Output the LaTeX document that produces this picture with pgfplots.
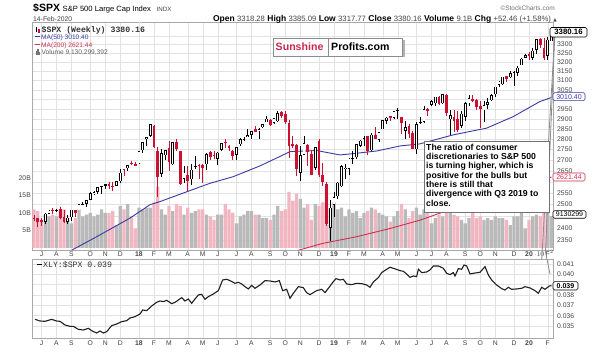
\documentclass[border=0pt]{standalone}
\usepackage{pgfplots}
\pgfplotsset{compat=1.18}
\usepackage{pgfplotstable}
\usepackage{fontspec}
\setmainfont{Liberation Sans}
\newfontfamily\mono{Liberation Mono}
\newfontfamily\dejavu{DejaVu Sans}
\definecolor{cred}{HTML}{CC1133}
\definecolor{vgray}{HTML}{B9B9B9}
\definecolor{vpink}{HTML}{F2B6C2}
\definecolor{mablue}{HTML}{3A3AA6}
\definecolor{mared}{HTML}{D0304E}
\definecolor{gridc}{HTML}{E2E2E2}
\definecolor{framec}{HTML}{A8A8A8}
\definecolor{txt}{HTML}{444444}
\definecolor{sunred}{HTML}{C8284A}
\newcommand{\fs}[1]{\fontsize{#1}{#1}\selectfont}

\pgfplotstableread{
i o h l c v
0 2442 2454 2428 2438 11.0
1 2442 2443 2405 2423 10.5
2 2431 2442 2407 2425 7.5
3 2426 2463 2416 2459 9.5
4 2459 2477 2457 2473 9.0
5 2475 2484 2459 2472 9.5
6 2475 2480 2468 2477 9.0
7 2478 2490 2437 2441 10.5
8 2444 2475 2421 2426 11.0
9 2426 2456 2417 2443 8.5
10 2444 2477 2428 2477 7.0
11 2474 2475 2446 2461 8.5
12 2474 2500 2474 2500 11.0
13 2501 2508 2496 2502 9.0
14 2503 2520 2488 2519 9.5
15 2521 2552 2521 2549 10.0
16 2547 2557 2543 2553 9.0
17 2555 2575 2547 2575 9.5
18 2578 2582 2544 2581 11.0
19 2583 2588 2566 2588 10.0
20 2588 2598 2566 2582 10.0
21 2580 2597 2557 2579 10.5
22 2583 2605 2579 2602 6.5
23 2602 2657 2596 2642 12.0
24 2657 2657 2624 2652 11.0
25 2661 2679 2650 2675 12.5
26 2685 2695 2676 2683 9.0
27 2683 2692 2673 2674 5.5
28 2684 2743 2682 2743 11.5
29 2747 2787 2733 2786 11.0
30 2799 2810 2769 2810 11.5
31 2815 2873 2808 2873 11.5
32 2867 2870 2759 2762 13.0
33 2741 2763 2533 2620 17.5
34 2636 2754 2622 2732 11.0
35 2722 2747 2698 2747 9.5
36 2757 2789 2647 2691 12.0
37 2681 2786 2675 2786 10.5
38 2788 2802 2742 2752 12.5
39 2741 2741 2585 2588 12.0
40 2613 2672 2593 2641 9.5
41 2633 2672 2553 2604 11.5
42 2611 2680 2586 2656 10.0
43 2669 2717 2660 2670 10.5
44 2675 2683 2612 2670 11.0
45 2676 2682 2594 2663 11.0
46 2680 2732 2655 2728 9.5
47 2738 2743 2702 2713 9.0
48 2723 2742 2707 2721 8.0
49 2705 2736 2675 2735 9.5
50 2748 2779 2743 2779 9.5
51 2784 2801 2755 2780 12.5
52 2765 2774 2742 2755 11.0
53 2742 2746 2698 2718 10.0
54 2724 2763 2698 2760 7.0
55 2775 2804 2769 2801 9.0
56 2797 2809 2793 2802 9.5
57 2811 2848 2808 2819 10.5
58 2821 2841 2801 2840 10.5
59 2849 2863 2833 2833 9.5
60 2838 2855 2802 2850 9.5
61 2858 2876 2853 2875 8.5
62 2884 2916 2884 2902 8.5
63 2896 2900 2864 2872 8.0
64 2881 2906 2874 2905 9.5
65 2888 2940 2886 2930 12.0
66 2933 2940 2903 2914 10.5
67 2926 2939 2874 2886 11.0
68 2882 2894 2710 2767 16.0
69 2775 2817 2755 2768 13.5
70 2773 2778 2628 2658 15.5
71 2640 2767 2603 2723 14.0
72 2726 2815 2722 2781 11.5
73 2773 2775 2670 2736 12.5
74 2730 2747 2631 2633 8.0
75 2663 2760 2655 2760 12.5
76 2790 2800 2621 2633 12.0
77 2630 2685 2583 2600 13.0
78 2590 2601 2409 2417 17.5
79 2401 2520 2346 2486 11.0
80 2498 2553 2444 2532 13.0
81 2535 2597 2524 2596 11.0
82 2580 2675 2575 2671 11.5
83 2657 2681 2612 2665 9.0
84 2659 2708 2631 2707 11.0
85 2703 2744 2681 2708 10.0
86 2712 2776 2704 2776 10.5
87 2769 2796 2764 2793 8.5
88 2802 2816 2767 2804 10.0
89 2814 2816 2722 2743 10.5
90 2747 2830 2741 2822 11.5
91 2822 2860 2800 2801 11.0
92 2796 2836 2785 2834 10.0
93 2848 2893 2848 2893 9.5
94 2892 2910 2873 2907 9.0
95 2915 2917 2891 2905 7.5
96 2905 2940 2898 2940 9.0
97 2941 2955 2901 2946 10.5
98 2909 2912 2825 2881 12.5
99 2840 2892 2801 2860 11.0
100 2863 2876 2805 2826 8.5
101 2830 2840 2750 2752 10.5
102 2751 2885 2728 2873 11.5
103 2886 2911 2874 2887 9.5
104 2886 2964 2882 2950 11.0
105 2952 2958 2914 2942 10.0
106 2971 2996 2964 2990 7.0
107 2980 3014 2966 3014 8.5
108 3014 3018 2970 2977 9.5
109 2981 3028 2976 3026 9.0
110 3024 3027 2914 2932 11.0
111 2899 2944 2822 2919 10.5
112 2908 2943 2834 2889 9.5
113 2898 2939 2834 2847 9.0
114 2866 2940 2853 2926 8.0
115 2910 2985 2891 2979 7.0
116 2980 3021 2964 3007 8.5
117 3002 3022 2988 2992 10.0
118 2995 3002 2946 2962 8.5
119 2968 2993 2855 2952 9.0
120 2944 2993 2884 2970 8.0
121 2973 3008 2952 2986 8.5
122 2996 3027 2990 3023 8.0
123 3028 3067 3012 3067 9.0
124 3078 3097 3066 3093 8.5
125 3081 3120 3078 3120 8.5
126 3123 3127 3091 3110 8.0
127 3117 3154 3113 3141 6.5
128 3143 3150 3070 3146 9.0
129 3141 3182 3123 3169 9.0
130 3183 3226 3183 3221 11.0
131 3227 3247 3223 3240 5.5
132 3247 3259 3212 3235 8.0
133 3226 3282 3214 3265 9.0
134 3271 3330 3247 3330 9.5
135 3333 3338 3280 3295 9.0
136 3283 3337 3214 3226 10.5
137 3235 3347 3214 3328 10.0
138 3318 3385 3318 3380 9.13
}\spx

\pgfplotstableread{
i m
9 2300
16.7 2363
25.6 2441
30.9 2498
33.6 2512
40.7 2555
46.9 2593
53.1 2623
60.3 2673
68.3 2740
75.4 2745
81.6 2724
86 2732
91.4 2743
97.6 2767
102.9 2777
111.8 2821
120.7 2854
127.8 2912
134.9 2989
138 3010.40
}\maL

\pgfplotstableread{
i m
70 2306
77 2336
79 2342
86 2363
94.9 2397
102.9 2432
111.8 2482
120 2530
128 2576
134.9 2604
138 2621.44
}\maS

\pgfplotstableread{
i r
0.27 0.035645
1.6 0.035484
2.93 0.035452
4.71 0.035645
6.04 0.035484
6.93 0.035452
8.27 0.035097
9.6 0.034968
10.49 0.034968
11.82 0.034677
13.16 0.034613
14.49 0.034774
15.38 0.034548
16.71 0.034323
17.6 0.034516
18.49 0.034323
19.38 0.034452
20.71 0.035032
22.04 0.035194
23.38 0.035419
24.71 0.035516
25.6 0.035774
26.93 0.035903
28.27 0.036161
28.98 0.036548
30.04 0.036484
31.38 0.036935
32.71 0.037290
33.6 0.037419
34.49 0.037355
35.38 0.037484
36.71 0.037161
37.6 0.037290
38.49 0.037516
39.38 0.037742
40.27 0.037419
41.16 0.037613
42.04 0.037194
42.93 0.037613
43.82 0.038000
44.71 0.038065
45.6 0.037581
46.49 0.037839
47.82 0.038097
49.16 0.038419
50.31 0.039452
51.38 0.039516
52.27 0.039387
53.6 0.039129
54.49 0.039226
55.38 0.039065
56.27 0.038806
57.16 0.038581
58.04 0.038935
58.93 0.038645
60.27 0.038968
61.6 0.039387
62.93 0.039355
64.27 0.039258
65.42 0.039387
66.31 0.038419
67.38 0.038548
68.27 0.037677
69.16 0.038161
70.49 0.038806
71.82 0.038710
72.71 0.038226
73.6 0.038032
74.49 0.038226
75.38 0.038419
76.71 0.038548
77.6 0.038226
78.49 0.038645
79.82 0.039290
80.53 0.039581
81.6 0.039452
82.49 0.039516
83.38 0.039065
84.71 0.039000
86.04 0.039129
87.38 0.039097
88.71 0.038968
89.6 0.038742
90.49 0.039258
91.82 0.039677
92.71 0.040161
94.04 0.040484
94.93 0.040677
95.82 0.040581
97.6 0.040355
98.49 0.040290
99.38 0.040032
100.27 0.039710
101.16 0.039839
102.04 0.039774
102.49 0.040484
103.38 0.040161
104.71 0.040226
105.6 0.040419
106.49 0.040806
107.82 0.040806
109.16 0.040581
110.04 0.040097
110.93 0.039968
111.82 0.040161
112.27 0.039839
113.16 0.040548
114.04 0.040484
114.67 0.040903
115.38 0.040806
116.27 0.040032
117.16 0.040097
118.93 0.040194
120.27 0.040742
121.16 0.039935
122.04 0.039452
123.38 0.038968
124.71 0.038613
125.6 0.038484
126.49 0.038742
127.38 0.038548
128.71 0.038581
130.04 0.038645
130.93 0.038806
132.27 0.038677
133.6 0.038419
134.49 0.038161
135.38 0.038742
136.27 0.038548
137.42 0.038871
138 0.038900
}\ratio

\pgfplotsset{
  panel/.style={scale only axis, width=521pt, xmin=-0.533, xmax=138.4,
    axis line style={framec, line width=0.6pt}, tick style={draw=none},
    xtick={2,6,10,15,19,23,28,32,36,41,45,49,54,58,63,67,71,76,80,84,88,93,97,102,106,110,115,119,123,128,132,137},
    xticklabels={J,A,S,O,N,D,\textbf{18},F,M,A,M,J,J,A,S,O,N,D,\textbf{19},F,M,A,M,J,J,A,S,O,N,D,\textbf{20},F},
    xticklabel style={font=\fs{6.8}, text=txt, inner sep=0pt},
    yticklabel style={font=\fs{6.8}, text=txt, inner sep=0pt},
    grid=major, major grid style={gridc, line width=0.5pt},
    extra x ticks={28,80,132}, extra x tick labels={},
    extra x tick style={grid style={black!28, line width=0.6pt}},
  },
}

\begin{document}
\begin{tikzpicture}
\path[use as bounding box] (0pt,0pt) rectangle (600pt,353pt);
\fill[white] (0pt,0pt) rectangle (600pt,353pt);

% price grid + right labels
\begin{axis}[ymode=log, panel, at={(32pt,103pt)}, anchor=south west, height=228pt,
  ymin=2309.5, ymax=3432.8,
  ytick={2350,2400,2450,2500,2550,2600,2650,2700,2750,2800,2850,2900,2950,3000,3050,3100,3150,3200,3250,3300,3350},
  yticklabels={2350,2400,{},2500,2550,{},2650,2700,2750,2800,2850,2900,2950,{},3050,3100,3150,3200,3250,3300,{}},
  yticklabel pos=right, yticklabel style={anchor=west, xshift=4pt},
  xticklabel style={yshift=-1.2pt}]
\end{axis}

% volume
\begin{axis}[scale only axis, width=521pt, height=228pt, at={(32pt,103pt)}, anchor=south west,
  xmin=-0.533, xmax=138.4, ymin=-0.571, ymax=64.57,
  axis line style={draw=none}, tick style={draw=none}, xtick=\empty,
  ytick={5,10,15,20}, yticklabels={5B,10B,15B,20B},
  yticklabel style={font=\fs{6.8}, text=txt, inner sep=0pt, anchor=east, xshift=-1pt}]
\addplot[ybar, bar width=3.1pt, bar shift=0pt, fill=vgray, draw=none,
  restrict expr to domain={\thisrow{c}-\thisrow{o}}{0:100000}] table[x=i,y=v]{\spx};
\addplot[ybar, bar width=3.1pt, bar shift=0pt, fill=vpink, draw=none,
  restrict expr to domain={\thisrow{c}-\thisrow{o}}{-100000:-0.001}] table[x=i,y=v]{\spx};
\end{axis}

% candles and moving averages
\begin{axis}[ymode=log, scale only axis, width=521pt, height=228pt, at={(32pt,103pt)}, anchor=south west,
  xmin=-0.533, xmax=138.4, ymin=2309.5, ymax=3432.8, hide axis]
\addplot[mablue, line width=0.9pt] table[x=i,y=m]{\maL};
\addplot[mared, line width=0.9pt] table[x=i,y=m]{\maS};
% wicks
\addplot[draw=none, restrict expr to domain={\thisrow{c}-\thisrow{o}}{0:100000},
  error bars/.cd, y dir=minus, y explicit, error mark=none,
  error bar style={draw=black, line width=0.6pt}]
  table[x=i, y=h, y error minus expr={\thisrow{h}-\thisrow{l}}]{\spx};
\addplot[draw=none, restrict expr to domain={\thisrow{c}-\thisrow{o}}{-100000:-0.001},
  error bars/.cd, y dir=minus, y explicit, error mark=none,
  error bar style={draw=cred, line width=0.6pt}]
  table[x=i, y=h, y error minus expr={\thisrow{h}-\thisrow{l}}]{\spx};
% down bodies
\addplot[draw=none, restrict expr to domain={\thisrow{c}-\thisrow{o}}{-100000:-0.001},
  error bars/.cd, y dir=minus, y explicit, error mark=none,
  error bar style={draw=cred, line width=2.6pt}]
  table[x=i, y=o, y error minus expr={\thisrow{o}-\thisrow{c}}]{\spx};
% up bodies (hollow)
\addplot[draw=none, restrict expr to domain={\thisrow{c}-\thisrow{o}}{0:100000},
  error bars/.cd, y dir=minus, y explicit, error mark=none,
  error bar style={draw=black, line width=2.7pt}]
  table[x=i, y=c, y error minus expr={\thisrow{c}-\thisrow{o}}]{\spx};
\addplot[draw=none, restrict expr to domain={\thisrow{c}-\thisrow{o}}{0:100000},
  error bars/.cd, y dir=minus, y explicit, error mark=none,
  error bar style={draw=white, line width=1.3pt}]
  table[x=i, y expr={\thisrow{c}/1.001}, y error minus expr={max(\thisrow{c}/1.001-\thisrow{o}*1.001,0)}]{\spx};
\end{axis}

% ratio panel
\begin{axis}[panel, at={(32pt,15pt)}, anchor=south west, height=79pt,
  ymin=0.03384, ymax=0.04148,
  ytick={0.035,0.036,0.037,0.038,0.039,0.040,0.041},
  yticklabels={0.035,0.036,0.037,0.038,{},0.040,0.041},
  yticklabel pos=right, yticklabel style={anchor=west, xshift=4pt},
  xticklabel style={yshift=-3pt}]
\addplot[black!88, line width=1.1pt] table[x=i,y=r]{\ratio};
\end{axis}

% ---- header ----
\node[anchor=base west, inner sep=0pt] at (33pt,341.5pt) {\fs{10.5}\bfseries \$SPX};
\node[anchor=base west, inner sep=0pt] at (62.5pt,341.5pt) {\fs{7.6}S\&P 500 Large Cap Index};
\node[anchor=base west, inner sep=0pt, text=txt] at (156.5pt,341.5pt) {\fs{6.2}INDX};
\node[anchor=base west, inner sep=0pt, text=txt] at (33pt,331.5pt) {\fs{6.8}14-Feb-2020};
\node[anchor=base east, inner sep=0pt] at (557pt,331.5pt) {\fs{8.5}\textbf{Open} {\fs{7.7}\textcolor{txt}{3318.28}} \textbf{High} {\fs{7.7}\textcolor{txt}{3385.09}} \textbf{Low} {\fs{7.7}\textcolor{txt}{3317.77}} \textbf{Close} {\fs{7.7}\textcolor{txt}{3380.16}} \textbf{Volume} {\fs{7.7}\textcolor{txt}{9.1B}} \textbf{Chg} {\fs{7.7}\textcolor{txt}{+52.46 (+1.58\%)}} {\dejavu\fs{4.5}\textcolor{txt}{▲}}};
\node[anchor=base east, inner sep=0pt, text=black!55] at (555pt,342pt) {\fs{6.5}©StockCharts.com};

% ---- legend inside ----
\fill[black] (35.5pt,321pt) rectangle (37.3pt,325.5pt);
\fill[cred] (38.2pt,320pt) rectangle (40pt,324pt);
\node[anchor=base west, inner sep=0pt, text=black!80] at (41.5pt,320.8pt) {\fs{8.2}\mono\bfseries \$SPX (Weekly) 3380.16};
\draw[mablue, line width=1pt] (35pt,316pt) -- (40pt,316pt);
\node[anchor=base west, inner sep=0pt, text=mablue] at (41pt,313.8pt) {\fs{6.6}MA(50) 3010.40};
\draw[mared, line width=1pt] (35pt,308pt) -- (40pt,308pt);
\node[anchor=base west, inner sep=0pt, text=mared] at (41pt,305.6pt) {\fs{6.6}MA(200) 2621.44};
\fill[black!55] (35.5pt,298pt) rectangle (36.7pt,302pt);
\fill[black!55] (37.3pt,298pt) rectangle (38.5pt,304pt);
\fill[black!55] (39.1pt,298pt) rectangle (40.3pt,301pt);
\node[anchor=base west, inner sep=0pt, text=black!62] at (41.5pt,298pt) {\fs{6.6}Volume 9,130,299,392};

% ---- logo ----
\fill[black!30] (275pt,295.5pt) rectangle (404.5pt,313.2pt);
\draw[black!45, fill=white, line width=0.6pt] (273.3pt,297pt) rectangle (402.7pt,314.7pt);
\draw[black!45, line width=0.6pt] (328.3pt,297pt) -- (328.3pt,314.7pt);
\node[anchor=base west, inner sep=0pt, text=sunred] at (275.5pt,302.2pt) {\fs{10.6}\bfseries Sunshine};
\node[anchor=base west, inner sep=0pt] at (331pt,302.2pt) {\fs{10.6}\bfseries Profits.com};

% ---- annotation ----
\draw[black!45, line width=0.8pt] (555pt,323pt) -- (541.7pt,93pt);
\draw[black!45, line width=0.8pt] (555pt,323pt) -- (545.5pt,101pt) -- (550pt,79pt);
\draw[black!55, fill=white, line width=0.6pt] (424pt,141pt) rectangle (549pt,211.3pt);
\node[anchor=north west, inner sep=0pt, align=left, font={\fontsize{8.7}{9.3}\selectfont\bfseries}] at (426pt,209.3pt)
 {The ratio of consumer\\discretionaries to S\&P 500\\is turning higher, which is\\positive for the bulls but\\there is still that\\divergence with Q3 2019 to\\close.};

% ---- value tags ----
\draw[black, fill=white, line width=0.6pt, rounded corners=1.5pt] (550pt,316pt) rectangle (587pt,325.5pt);
\node[inner sep=0pt] at (568.5pt,320.7pt) {\fs{7.8}\bfseries 3380.16};
\draw[mablue, fill=white, line width=0.6pt, rounded corners=1.5pt] (553pt,252.3pt) rectangle (585pt,260.3pt);
\node[inner sep=0pt, text=mablue] at (569pt,256.3pt) {\fs{7}3010.40};
\draw[mared, fill=white, line width=0.6pt, rounded corners=1.5pt] (553pt,172pt) rectangle (585pt,180pt);
\node[inner sep=0pt, text=mared] at (569pt,176pt) {\fs{7}2621.44};
\draw[black, fill=white, line width=0.6pt, rounded corners=1.5pt] (553pt,134.7pt) rectangle (586pt,142.3pt);
\node[inner sep=0pt] at (569.5pt,138.5pt) {\fs{7}9130299};
\draw[black, fill=white, line width=0.6pt, rounded corners=1.5pt] (553pt,63pt) rectangle (578pt,71.3pt);
\node[inner sep=0pt] at (565.5pt,67.1pt) {\fs{7}\bfseries 0.039};

% ratio legend
\draw[black, line width=1pt] (37pt,88pt) -- (42pt,88pt);
\node[anchor=base west, inner sep=0pt, text=black!80] at (43pt,85pt) {\fs{8.2}\mono XLY:\$SPX 0.039};
\end{tikzpicture}
\end{document}
